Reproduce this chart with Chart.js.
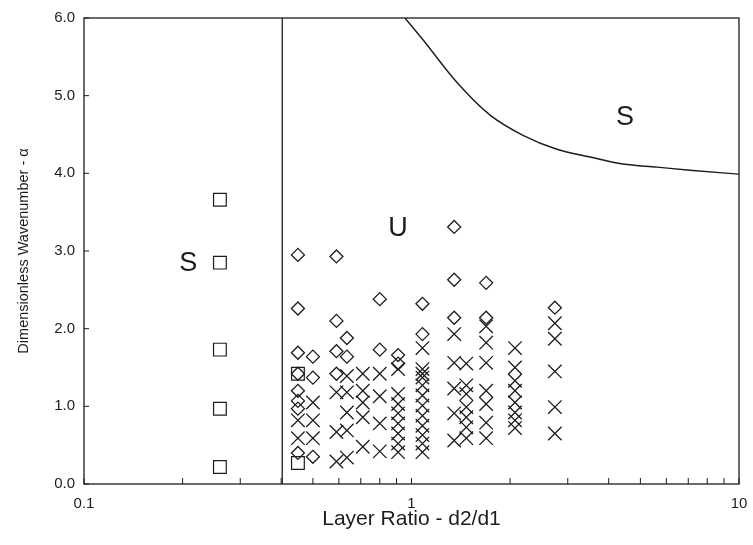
<!DOCTYPE html>
<html>
<head>
<meta charset="utf-8">
<script src="https://cdn.jsdelivr.net/npm/chart.js@4/dist/chart.umd.min.js"></script>
<style>
  html, body { margin: 0; padding: 0; background: #fff; }
  #wrap { width: 753px; height: 545px; }
</style>
</head>
<body>
<div id="wrap"><canvas id="myChart" width="753" height="545"></canvas></div>
<script>
// stable region boundary (vertical) and upper neutral curve
const boundaryX = [0.403, 0.403]
const boundaryY = [0, 6]
const curveX = [0.955, 1.084, 1.377, 1.738, 2.19, 2.78, 3.51, 4.42, 5.62, 7.08, 10]
const curveY = [6.0, 5.72, 5.17, 4.75, 4.49, 4.31, 4.21, 4.12, 4.08, 4.04, 3.99]

// squares
const squareX = [0.26, 0.26, 0.26, 0.26, 0.26, 0.45, 0.45]
const squareY = [3.66, 2.85, 1.73, 0.97, 0.22, 1.42, 0.27]

// diamonds
const diamondX = [
  0.45, 0.45, 0.45, 0.45, 0.45, 0.45, 0.45, 0.45,
  0.50, 0.50, 0.50,
  0.59, 0.59, 0.59, 0.59,
  0.635, 0.635,
  0.80, 0.80,
  0.91, 0.91,
  1.08, 1.08,
  1.35, 1.35, 1.35,
  1.69, 1.69,
  2.74
]
const diamondY = [
  2.95, 2.26, 1.69, 1.42, 1.20, 1.07, 0.97, 0.40,
  1.64, 1.37, 0.35,
  2.93, 2.10, 1.71, 1.42,
  1.88, 1.64,
  2.38, 1.73,
  1.66, 1.55,
  2.32, 1.93,
  3.31, 2.63, 2.14,
  2.59, 2.14,
  2.27
]

// crosses
const crossX = [
  0.45, 0.45,
  0.50, 0.50, 0.50,
  0.59, 0.59, 0.59,
  0.635, 0.635, 0.635, 0.635, 0.635,
  0.71, 0.71, 0.71, 0.71, 0.71,
  0.80, 0.80, 0.80, 0.80,
  0.91, 0.91, 0.91, 0.91, 0.91, 0.91, 0.91, 0.91,
  1.08, 1.08, 1.08, 1.08, 1.08, 1.08, 1.08, 1.08, 1.08, 1.08, 1.08, 1.08,
  1.35, 1.35, 1.35, 1.35, 1.35,
  1.47, 1.47, 1.47, 1.47, 1.47, 1.47, 1.47,
  1.69, 1.69, 1.69, 1.69, 1.69, 1.69, 1.69,
  2.07, 2.07, 2.07, 2.07, 2.07, 2.07, 2.07, 2.07,
  2.74, 2.74, 2.74, 2.74, 2.74
]
const crossY = [
  0.82, 0.59,
  1.05, 0.82, 0.59,
  1.18, 0.67, 0.29,
  1.39, 1.18, 0.92, 0.69, 0.34,
  1.42, 1.20, 1.05, 0.86, 0.48,
  1.42, 1.13, 0.78, 0.42,
  1.48, 1.16, 1.03, 0.91, 0.78, 0.65, 0.52, 0.41,
  1.75, 1.48, 1.42, 1.37, 1.27, 1.14, 1.01, 0.88, 0.75, 0.63, 0.52, 0.41,
  1.93, 1.56, 1.23, 0.91, 0.56,
  1.55, 1.27, 1.16, 0.99, 0.86, 0.73, 0.59,
  2.03, 1.82, 1.56, 1.20, 1.03, 0.79, 0.59,
  1.75, 1.50, 1.33, 1.20, 1.05, 0.92, 0.82, 0.72,
  2.07, 1.87, 1.45, 0.99, 0.65
]

// axis ticks
const xTicks = [0.1, 0.2, 0.3, 0.4, 0.5, 0.6, 0.7, 0.8, 0.9, 1, 2, 3, 4, 5, 6, 7, 8, 9, 10]
const xLabels = [0.1, 1, 10]
const yTicks = [0, 1, 2, 3, 4, 5, 6]

// region labels
const regionText = ['S', 'U', 'S']
const regionX = [0.208, 0.91, 4.49]
const regionY = [2.84, 3.29, 4.72]

const ink = '#1c1c1c'
const font = "'Liberation Sans', Arial, Helvetica, sans-serif"

const toPoints = (xs, ys) => xs.map((x, i) => ({ x: x, y: ys[i] }))

const framePlugin = {
  id: 'frame',
  afterDatasetsDraw(chart) {
    const ctx = chart.ctx
    const a = chart.chartArea
    const xs = chart.scales.x
    const ys = chart.scales.y
    ctx.save()
    ctx.strokeStyle = ink
    ctx.lineWidth = 1.3
    ctx.strokeRect(a.left, a.top, a.right - a.left, a.bottom - a.top)
    ctx.beginPath()
    xTicks.forEach(v => {
      const px = xs.getPixelForValue(v)
      ctx.moveTo(px, a.bottom)
      ctx.lineTo(px, a.bottom - 6)
    })
    yTicks.forEach(v => {
      const py = ys.getPixelForValue(v)
      ctx.moveTo(a.left, py)
      ctx.lineTo(a.left + 5, py)
    })
    ctx.lineWidth = 1
    ctx.stroke()
    ctx.fillStyle = ink
    ctx.font = '27px ' + font
    ctx.textAlign = 'center'
    ctx.textBaseline = 'middle'
    regionText.forEach((t, i) => {
      ctx.fillText(t, xs.getPixelForValue(regionX[i]), ys.getPixelForValue(regionY[i]))
    })
    ctx.restore()
  }
}

const config = {
  type: 'scatter',
  data: {
    datasets: [
      {
        label: 'boundary',
        data: toPoints(boundaryX, boundaryY),
        showLine: true,
        borderColor: ink,
        borderWidth: 1.3,
        pointRadius: 0
      },
      {
        label: 'curve',
        data: toPoints(curveX, curveY),
        showLine: true,
        borderColor: ink,
        borderWidth: 1.4,
        pointRadius: 0,
        cubicInterpolationMode: 'monotone'
      },
      {
        label: 'square',
        data: toPoints(squareX, squareY),
        pointStyle: 'rect',
        pointRadius: 9,
        borderColor: ink,
        borderWidth: 1.2,
        backgroundColor: 'rgba(0,0,0,0)'
      },
      {
        label: 'diamond',
        data: toPoints(diamondX, diamondY),
        pointStyle: 'rectRot',
        pointRadius: 6.5,
        borderColor: ink,
        borderWidth: 1.3,
        backgroundColor: 'rgba(0,0,0,0)'
      },
      {
        label: 'cross',
        data: toPoints(crossX, crossY),
        pointStyle: 'crossRot',
        pointRadius: 9.5,
        borderColor: ink,
        borderWidth: 1.3
      }
    ]
  },
  options: {
    responsive: false,
    animation: false,
    layout: { autoPadding: false, padding: { top: 15, right: 14, left: 0, bottom: 0 } },
    plugins: {
      legend: { display: false },
      tooltip: { enabled: false }
    },
    scales: {
      x: {
        type: 'logarithmic',
        min: 0.1,
        max: 10,
        grid: { display: false, drawTicks: false },
        border: { display: false },
        afterBuildTicks: (scale) => { scale.ticks = xTicks.map(v => ({ value: v })) },
        afterFit: (scale) => {
          scale.height = 61
          scale.paddingLeft = 0
          scale.paddingRight = 0
        },
        ticks: {
          autoSkip: false,
          maxRotation: 0,
          padding: 11,
          color: ink,
          font: { family: font, size: 15 },
          callback: (v) => xLabels.includes(v) ? String(v) : ''
        },
        title: {
          display: true,
          text: 'Layer Ratio - d2/d1',
          color: ink,
          font: { family: font, size: 21 },
          padding: { top: 0, bottom: 13 }
        }
      },
      y: {
        min: 0,
        max: 6,
        grid: { display: false, drawTicks: false },
        border: { display: false },
        afterBuildTicks: (scale) => { scale.ticks = yTicks.map(v => ({ value: v })) },
        afterFit: (scale) => { scale.width = 84 },
        ticks: {
          padding: 9,
          color: ink,
          font: { family: font, size: 15 },
          callback: (v) => v.toFixed(1)
        },
        title: {
          display: true,
          text: 'Dimensionless Wavenumber - α',
          color: ink,
          font: { family: font, size: 14.5 },
          padding: { top: 15, bottom: 0 }
        }
      }
    }
  },
  plugins: [framePlugin]
}

const myChart = new Chart(document.getElementById('myChart'), config)
</script>
</body>
</html>
